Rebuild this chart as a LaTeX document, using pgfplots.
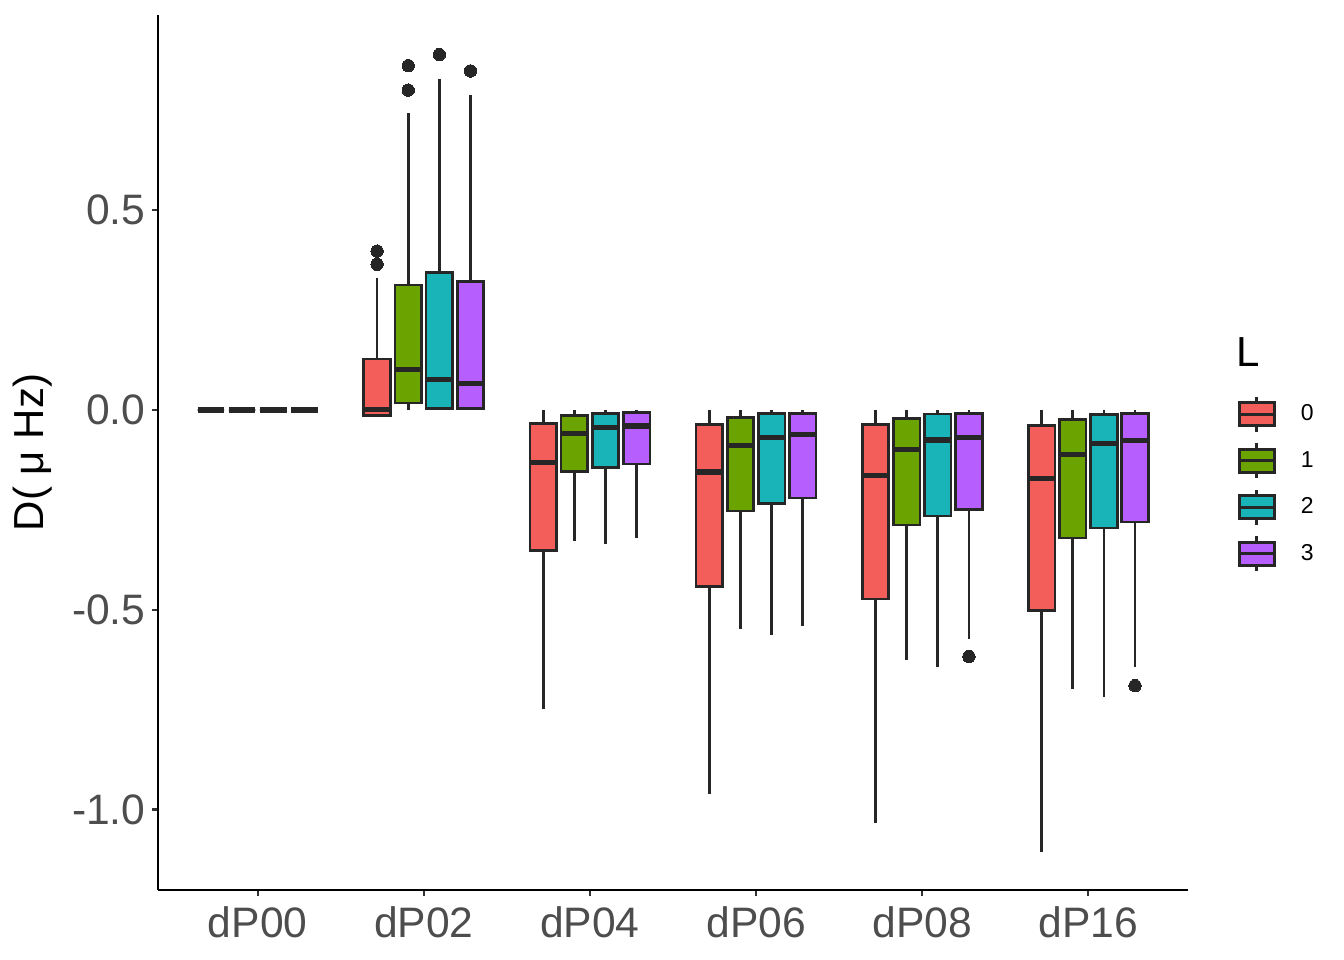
\documentclass[border=0pt]{standalone}
\usepackage{fontspec}
\setmainfont{Liberation Sans}
\usepackage{pgfplots}
\pgfplotsset{compat=1.18}
\usepgfplotslibrary{statistics}
\definecolor{c0}{HTML}{F35E5A}
\definecolor{c1}{HTML}{6BA300}
\definecolor{c2}{HTML}{18B4B8}
\definecolor{c3}{HTML}{B75EFF}
\definecolor{ln}{HTML}{262626}
\definecolor{tk}{HTML}{4D4D4D}
\definecolor{tm}{HTML}{333333}
\pgfplotsset{
  bp/.style={solid, draw=ln, line width=1.35bp,
    mark=*, mark size=3.1bp, mark options={draw=ln, fill=ln, line width=0pt},
    boxplot/draw direction=y,
    boxplot/box extend=0.16, boxplot/whisker extend=0,
    boxplot/every median/.style={line width=2.7bp}},
}
% colour, position, lower whisker, lower quartile, median, upper quartile, upper whisker
\newcommand\bx[7]{%
  \addplot[bp, fill=#1, boxplot prepared={draw position=#2, lower whisker=#3,
    lower quartile=#4, median=#5, upper quartile=#6, upper whisker=#7}] coordinates {};}
\newcommand\bxo[8]{%
  \addplot[bp, fill=#1, boxplot prepared={draw position=#2, lower whisker=#3,
    lower quartile=#4, median=#5, upper quartile=#6, upper whisker=#7}]
    table[row sep=\\, y index=0] {d\\#8};}
\newcommand\legbox[1]{%
  \addlegendimage{legend image code/.code={%
    \draw[ln, line width=1.35bp] (8.75bp,5.75bp) -- (8.75bp,8.75bp);
    \draw[ln, line width=1.35bp] (8.75bp,-5.75bp) -- (8.75bp,-8.75bp);
    \draw[fill=#1, draw=ln, line width=1.35bp] (0bp,-5.75bp) rectangle (17.5bp,5.75bp);
    \draw[ln, line width=1.35bp] (0bp,0bp) -- (17.5bp,0bp);}}}
\begin{document}
\begin{tikzpicture}
\begin{axis}[name=ax, at={(0,0)}, anchor=south west,
  scale only axis, width=515bp, height=437.5bp,
  xmin=0.4, xmax=6.6, ymin=-1.2015, ymax=0.989,
  axis lines*=left, axis line style={-, black, line width=1.1bp},
  xtick={1,2,3,4,5,6}, xticklabels={dP00,dP02,dP04,dP06,dP08,dP16},
  ytick={-1,-0.5,0,0.5}, yticklabels={-1.0,-0.5,0.0,0.5},
  tick align=outside, major tick length=2.75bp,
  tick style={tm, line width=1.1bp},
  ticklabel style={font=\fontsize{21.3bp}{25bp}\selectfont, text=tk},
  xticklabel style={yshift=-2bp},
  ylabel={D( μ Hz)},
  every axis y label/.style={at={(axis description cs:-0.1214,0.5)}, anchor=center, rotate=90,
    font=\fontsize{21bp}{25bp}\selectfont, text=black},
  legend style={at={(axis description cs:1.0484,0.5653)}, anchor=north west,
    draw=none, fill=none, inner sep=0pt, outer sep=0pt,
    font=\fontsize{11.5bp}{13bp}\selectfont,
    row sep=4.4bp, column sep=12.6bp, cells={anchor=center},
    nodes={inner sep=0pt}},
]
\legbox{c0}\addlegendentry{0}
\legbox{c1}\addlegendentry{1}
\legbox{c2}\addlegendentry{2}
\legbox{c3}\addlegendentry{3}
% dP00
\bx{c0}{0.71875}{0}{0}{0}{0}{0}
\bx{c1}{0.90625}{0}{0}{0}{0}{0}
\bx{c2}{1.09375}{0}{0}{0}{0}{0}
\bx{c3}{1.28125}{0}{0}{0}{0}{0}
% dP02
\bxo{c0}{1.71875}{-0.017}{-0.014}{0.002}{0.128}{0.331}{0.398\\0.365\\}
\bxo{c1}{1.90625}{0.0}{0.018}{0.102}{0.313}{0.743}{0.862\\0.801\\}
\bxo{c2}{2.09375}{0.0}{0.004}{0.077}{0.345}{0.828}{0.890\\}
\bxo{c3}{2.28125}{0.0}{0.004}{0.067}{0.321}{0.789}{0.849\\}
% dP04
\bx{c0}{2.71875}{-0.748}{-0.352}{-0.131}{-0.033}{0}
\bx{c1}{2.90625}{-0.327}{-0.154}{-0.058}{-0.014}{0}
\bx{c2}{3.09375}{-0.335}{-0.143}{-0.043}{-0.008}{0}
\bx{c3}{3.28125}{-0.321}{-0.135}{-0.040}{-0.006}{0}
% dP06
\bx{c0}{3.71875}{-0.961}{-0.442}{-0.155}{-0.036}{0}
\bx{c1}{3.90625}{-0.548}{-0.253}{-0.088}{-0.019}{0}
\bx{c2}{4.09375}{-0.563}{-0.234}{-0.068}{-0.009}{0}
\bx{c3}{4.28125}{-0.541}{-0.220}{-0.061}{-0.008}{0}
% dP08
\bx{c0}{4.71875}{-1.035}{-0.473}{-0.164}{-0.037}{0}
\bx{c1}{4.90625}{-0.625}{-0.288}{-0.099}{-0.022}{0}
\bx{c2}{5.09375}{-0.642}{-0.265}{-0.075}{-0.010}{0}
\bxo{c3}{5.28125}{-0.573}{-0.249}{-0.068}{-0.008}{0}{-0.617\\}
% dP16
\bx{c0}{5.71875}{-1.107}{-0.502}{-0.172}{-0.038}{0}
\bx{c1}{5.90625}{-0.699}{-0.320}{-0.112}{-0.023}{0}
\bx{c2}{6.09375}{-0.718}{-0.295}{-0.083}{-0.012}{0}
\bxo{c3}{6.28125}{-0.643}{-0.280}{-0.076}{-0.008}{0}{-0.690\\}
\end{axis}
\node[anchor=base west, inner sep=0pt, font=\fontsize{21bp}{24bp}\selectfont]
  at (539bp,261.7bp) {L};
\pgfresetboundingbox
\useasboundingbox (-79bp,-35bp) rectangle (593bp,445bp);
\end{tikzpicture}
\end{document}
